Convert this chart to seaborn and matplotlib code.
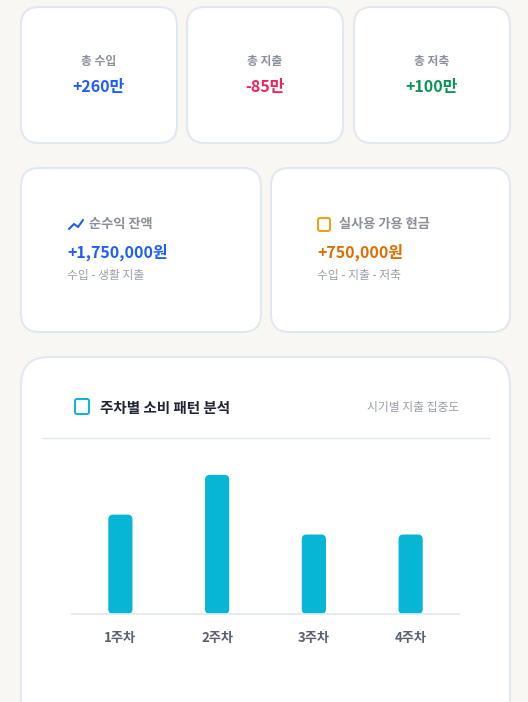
import matplotlib
matplotlib.use("Agg")
import matplotlib.pyplot as plt
import seaborn as sns
import pandas as pd
from matplotlib.patches import FancyBboxPatch

weeks = ["1주차", "2주차", "3주차", "4주차"]
spend = [25, 35, 20, 20]
summary_labels = ["총 수입", "총 지출", "총 저축"]
summary_values = ["+260만", "-85만", "+100만"]
summary_colors = ["#1d5cff", "#f0245a", "#079455"]

sns.set_theme(style="white")
plt.rcParams['font.family'] = ['Noto Sans CJK KR', 'DejaVu Sans']

W, H = 528, 702
fig = plt.figure(figsize=(W/100, H/100), dpi=100)
fig.patch.set_facecolor("#f8f7f4")

def card(x, y, w, h, r=18):
    p = FancyBboxPatch((x/W, 1-(y+h)/H), w/W, h/H,
                       boxstyle=f"round,pad=0,rounding_size={r/W}",
                       mutation_aspect=W/H, transform=fig.transFigure,
                       facecolor="white", edgecolor="#e2e8f0", linewidth=1.5, zorder=0)
    fig.add_artist(p)

def t(x, y, s, **kw):
    fig.text(x/W, 1-y/H, s, zorder=3, **kw)

xs = [21, 187, 354]
for x0, lab, val, col in zip(xs, summary_labels, summary_values, summary_colors):
    card(x0, 7, 156, 136)
    cx = x0 + 78
    t(cx, 62, lab, ha="center", va="center", fontsize=8.5, color="#8b8f99", fontweight="bold")
    t(cx, 87, val, ha="center", va="center", fontsize=11.5, color=col, fontweight="heavy")

card(21, 168, 240, 164)
card(271, 168, 239, 164)
fig.add_artist(plt.Line2D([69/W, 74/W, 78/W, 83/W], [1-229/H, 1-224/H, 1-227/H, 1-220/H],
                          color="#1d5cff", lw=1.5, transform=fig.transFigure, zorder=3))
t(89, 224, "순수익 잔액", ha="left", va="center", fontsize=9.5, color="#8b8f99", fontweight="bold")
t(67, 252, "+1,750,000원", ha="left", va="center", fontsize=11.5, color="#1d5cff", fontweight="heavy")
t(67, 276, "수입 - 생활 지출", ha="left", va="center", fontsize=8.5, color="#9a9ea8")
fig.add_artist(FancyBboxPatch((318/W, 1-231/H), 12/W, 13/H, boxstyle=f"round,pad=0,rounding_size={2/W}",
               mutation_aspect=W/H, transform=fig.transFigure, facecolor="none", edgecolor="#f59e0b", lw=1.4, zorder=3))
t(339, 224, "실사용 가용 현금", ha="left", va="center", fontsize=9.5, color="#8b8f99", fontweight="bold")
t(317, 252, "+750,000원", ha="left", va="center", fontsize=11.5, color="#e06d00", fontweight="heavy")
t(317, 276, "수입 - 지출 - 저축", ha="left", va="center", fontsize=8.5, color="#9a9ea8")

card(21, 357, 489, 380, r=28)
fig.add_artist(FancyBboxPatch((75/W, 1-414/H), 14/W, 15/H, boxstyle=f"round,pad=0,rounding_size={2/W}",
               mutation_aspect=W/H, transform=fig.transFigure, facecolor="none", edgecolor="#06b6d4", lw=1.4, zorder=3))
t(100, 408, "주차별 소비 패턴 분석", ha="left", va="center", fontsize=10.5, color="#1f2430", fontweight="heavy")
t(459, 407, "시기별 지출 집중도", ha="right", va="center", fontsize=8.5, color="#9a9ea8")
fig.add_artist(plt.Line2D([42/W, 489/W], [1-438/H, 1-438/H], color="#e2e8f0", lw=1, transform=fig.transFigure, zorder=3))

ax = fig.add_axes([72/W, 1-614/H, 387/W, 159/H])
ax.set_zorder(5)
df = pd.DataFrame({"week": weeks, "spend": spend})
sns.barplot(data=df, x="week", y="spend", color="#06b6d4", width=0.25, ax=ax, saturation=1)
ax.set_xlim(-0.5, 3.5)
ax.set_ylim(0, 40)
aspect = (40/159) / (4/387)
for p in list(ax.patches):
    fb = FancyBboxPatch((p.get_x(), p.get_y()), p.get_width(), p.get_height(),
                        boxstyle="round,pad=0,rounding_size=0.05", mutation_aspect=aspect,
                        facecolor="#06b6d4", edgecolor="none")
    p.remove()
    ax.add_patch(fb)
ax.patch.set_visible(False)
for s in ["top", "left", "right"]:
    ax.spines[s].set_visible(False)
ax.spines["bottom"].set_color("#e2e8f0")
ax.set_yticks([])
ax.set_xlabel(""); ax.set_ylabel("")
ax.tick_params(axis="x", length=0, pad=12, labelsize=9.5, labelcolor="#5b6070")
for lbl in ax.get_xticklabels():
    lbl.set_fontweight("bold")

fig.savefig("out.png", dpi=100)
